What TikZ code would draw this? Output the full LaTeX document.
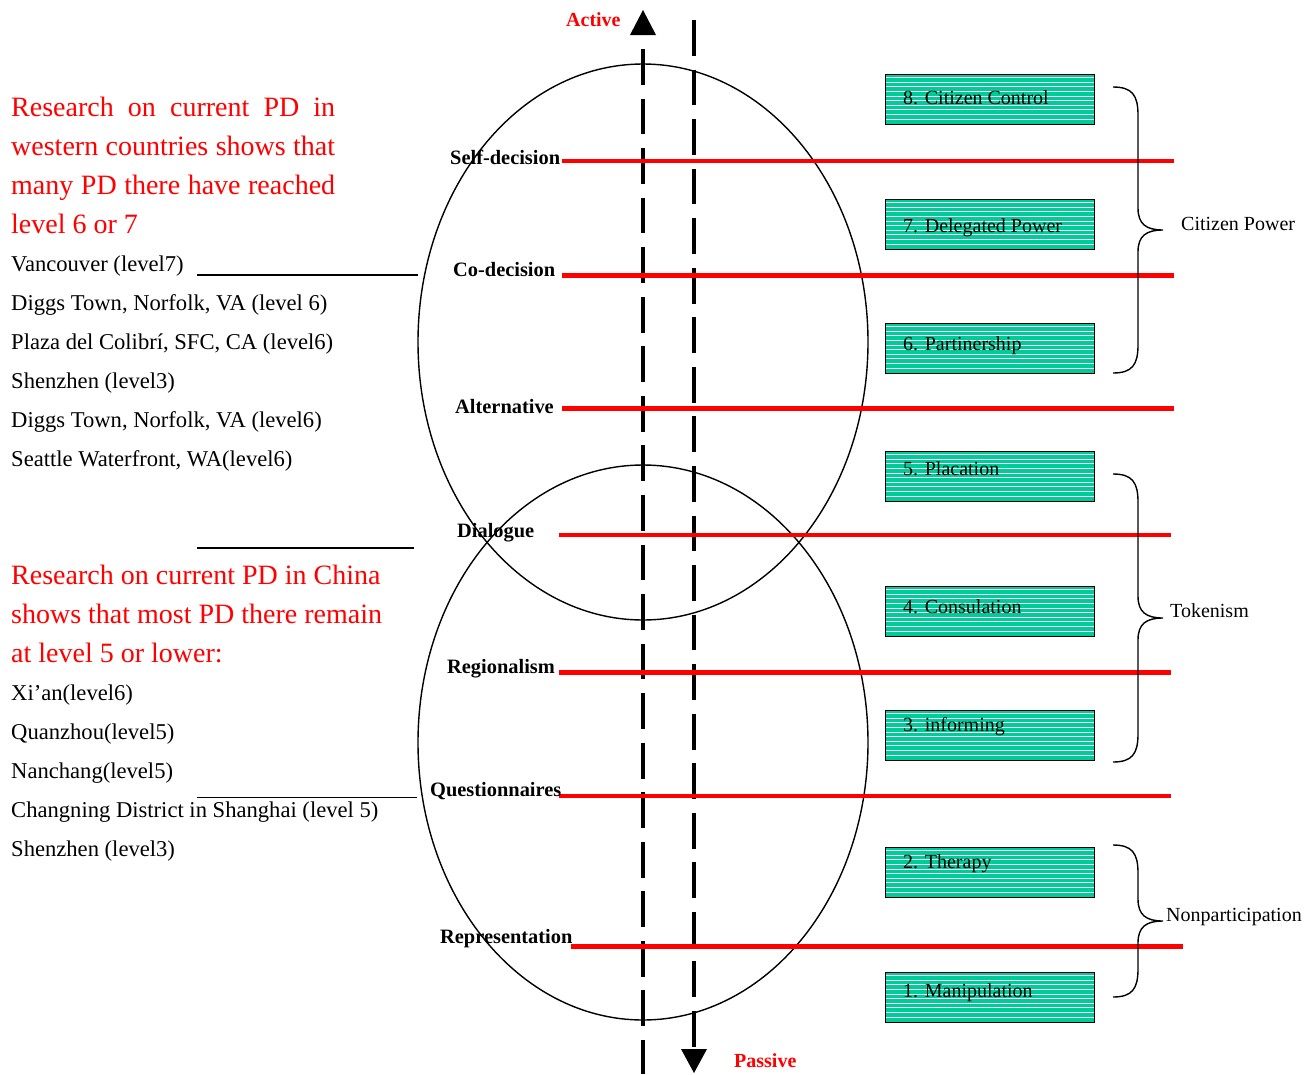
\documentclass[tikz,border=0pt]{standalone}
\usepackage{fontspec}
\setmainfont{Liberation Serif}
\definecolor{boxteal}{RGB}{0,204,153}
\newcommand\lvlbrace[3]{%
  \draw[bracepen] (1113,#1) .. controls (1132,#1) and (1138,#1+8) .. (1138,#1+28)
    -- (1138,#2-22) .. controls (1138,#2-6) and (1146,#2) .. (1163,#2)
    .. controls (1146,#2) and (1138,#2+6) .. (1138,#2+22)
    -- (1138,#3-28) .. controls (1138,#3-8) and (1132,#3) .. (1113,#3);}
\tikzset{
  redline/.style={draw=red, line width=4.3pt},
  axisline/.style={line width=3.6pt, dash pattern=on 35.8pt off 13.75pt},
  ellpen/.style={draw=black, line width=1.4pt},
  bracepen/.style={draw=black, line width=1.4pt},
  leftpen/.style={draw=black, line width=1.3pt},
  lvlbox/.style={draw=black, line width=1.3pt, fill=boxteal, minimum width=209pt,
    minimum height=50pt, inner sep=0pt, anchor=north west,
    path picture={\foreach \yy in {3,7.6,...,48.5}{%
      \draw[white,line width=0.9pt] ([yshift=-\yy pt]path picture bounding box.north west)
        -- ([yshift=-\yy pt]path picture bounding box.north east);}}},
  boxtxt/.style={font=\fontsize{20}{24}\selectfont, anchor=base west, inner sep=0pt},
  lvllabel/.style={font=\bfseries\fontsize{20.4}{24}\selectfont, anchor=base west, inner sep=0pt},
  grouplabel/.style={font=\fontsize{20}{24}\selectfont, anchor=base west, inner sep=0pt},
  redtxt/.style={font=\fontsize{28}{34}\selectfont, text=red, anchor=base west, inner sep=0pt},
  blktxt/.style={font=\fontsize{22.6}{26}\selectfont, anchor=base west, inner sep=0pt},
  axislabel/.style={font=\bfseries\fontsize{20}{24}\selectfont, text=red, anchor=base west, inner sep=0pt},
}
\begin{document}
\begin{tikzpicture}[x=1pt,y=-1pt]
\useasboundingbox (0,0) rectangle (1315,1074);
% ellipses
\draw[ellpen] (643,342) ellipse [x radius=225pt, y radius=278pt];
\draw[ellpen] (643,742.5) ellipse [x radius=225pt, y radius=277.5pt];
% axes
\coordinate (actTip) at (643,10);
\coordinate (actBase) at (643,35);
\coordinate (actStart) at (643,49);
\coordinate (actEnd) at (643,1074);
\draw[axisline] (actStart) -- (actEnd);
\fill ([xshift=-13pt]actBase) -- ([xshift=13pt]actBase) -- (actTip) -- cycle;
\coordinate (pasStart) at (694,20);
\coordinate (pasBase) at (694,1049);
\coordinate (pasTip) at (694,1073);
\draw[axisline] (pasStart) -- (pasBase);
\fill ([xshift=-13pt]pasBase) -- ([xshift=13pt]pasBase) -- (pasTip) -- cycle;
\node[axislabel] (active) at (566,26) {Active};
\node[axislabel] (passive) at (734,1067) {Passive};
% red level lines
\coordinate (r1a) at (562,161); \coordinate (r1b) at (1174,161);
\coordinate (r2a) at (562,275.5); \coordinate (r2b) at (1174,275.5);
\coordinate (r3a) at (562,408.5); \coordinate (r3b) at (1174,408.5);
\coordinate (r4a) at (559,535); \coordinate (r4b) at (1171,535);
\coordinate (r5a) at (559,672.5); \coordinate (r5b) at (1171,672.5);
\coordinate (r6a) at (559,796); \coordinate (r6b) at (1171,796);
\coordinate (r7a) at (571,946.5); \coordinate (r7b) at (1183,946.5);
\foreach \i in {1,...,7}{\draw[redline] (r\i a) -- (r\i b);}
% level labels
\node[lvllabel] (selfdec) at (450,164) {Self-decision};
\node[lvllabel] (codec) at (453,276) {Co-decision};
\node[lvllabel] (altern) at (455,413) {Alternative};
\node[lvllabel] (dialog) at (457,537) {Dialogue};
\node[lvllabel] (region) at (447,673) {Regionalism};
\node[lvllabel] (quest) at (430,796) {Questionnaires};
\node[lvllabel] (repres) at (440,943) {Representation};
% ladder boxes
\node[lvlbox] (b8) at (885,74) {};
\node[lvlbox] (b7) at (885,199) {};
\node[lvlbox] (b6) at (885,323) {};
\node[lvlbox] (b5) at (885,451) {};
\node[lvlbox] (b4) at (885,586) {};
\node[lvlbox] (b3) at (885,710) {};
\node[lvlbox] (b2) at (885,847) {};
\node[lvlbox] (b1) at (885,972) {};
\node[boxtxt] (t8) at (903,104) {8. Citizen Control};
\node[boxtxt] (t7) at (903,232) {7. Delegated Power};
\node[boxtxt] (t6) at (903,350) {6. Partinership};
\node[boxtxt] (t5) at (903,475) {5. Placation};
\node[boxtxt] (t4) at (903,613) {4. Consulation};
\node[boxtxt] (t3) at (903,731) {3. informing};
\node[boxtxt] (t2) at (903,868) {2. Therapy};
\node[boxtxt] (t1) at (903,997) {1. Manipulation};
% braces
\lvlbrace{87}{230}{373}
\lvlbrace{474}{618}{762}
\lvlbrace{845}{921}{997}
\node[grouplabel] (gcp) at (1181,230) {Citizen Power};
\node[grouplabel] (gtok) at (1170,617) {Tokenism};
\node[grouplabel] (gnon) at (1166,921) {Nonparticipation};
% left texts, group 1
\node[redtxt] (w1) at (11,116) {\makebox[324pt][s]{Research on current PD in}};
\node[redtxt] (w2) at (11,155) {\makebox[324pt][s]{western countries shows that}};
\node[redtxt] (w3) at (11,194) {\makebox[324pt][s]{many PD there have reached}};
\node[redtxt] (w4) at (11,233) {level 6 or 7};
\node[blktxt] (c1) at (11,271) {Vancouver (level7)};
\node[blktxt] (c2) at (11,310) {Diggs Town, Norfolk, VA (level 6)};
\node[blktxt] (c3) at (11,349) {Plaza del Colibrí, SFC, CA (level6)};
\node[blktxt] (c4) at (11,388) {Shenzhen (level3)};
\node[blktxt] (c5) at (11,427) {Diggs Town, Norfolk, VA (level6)};
\node[blktxt] (c6) at (11,466) {Seattle Waterfront, WA(level6)};
% left texts, group 2
\node[redtxt] (h1) at (11,584) {Research on current PD in China};
\node[redtxt] (h2) at (11,623) {shows that most PD there remain};
\node[redtxt] (h3) at (11,662) {at level 5 or lower:};
\node[blktxt] (d1) at (11,700) {Xi’an(level6)};
\node[blktxt] (d2) at (11,739) {Quanzhou(level5)};
\node[blktxt] (d3) at (11,778) {Nanchang(level5)};
\node[blktxt] (d4) at (11,817) {Changning District in Shanghai (level 5)};
\node[blktxt] (d5) at (11,856) {Shenzhen (level3)};
% left connector lines
\coordinate (l1a) at (197,275); \coordinate (l1b) at (418,275);
\coordinate (l2a) at (197,548); \coordinate (l2b) at (414,548);
\coordinate (l3a) at (197,797.5); \coordinate (l3b) at (417,797.5);
\draw[leftpen] (l1a) -- (l1b);
\draw[leftpen] (l2a) -- (l2b);
\draw[leftpen] (l3a) -- (l3b);
\end{tikzpicture}
\end{document}
